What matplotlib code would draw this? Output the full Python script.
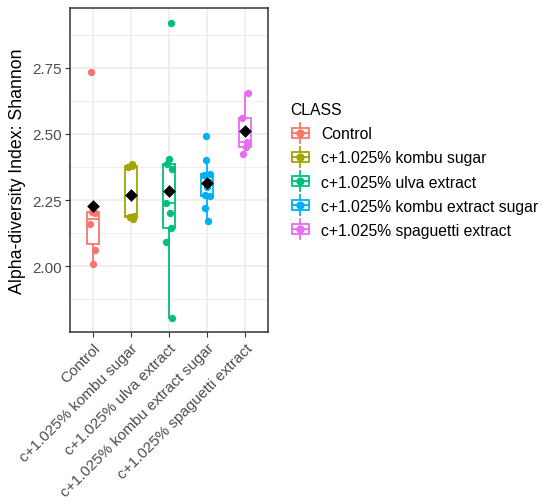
import numpy as np
import matplotlib
matplotlib.use("Agg")
import matplotlib.pyplot as plt
from matplotlib.patches import Rectangle
from matplotlib.lines import Line2D
from matplotlib.legend_handler import HandlerBase

plt.rcParams['font.family'] = ['Liberation Sans', 'DejaVu Sans']

categories = ["Control", "c+1.025% kombu sugar", "c+1.025% ulva extract",
              "c+1.025% kombu extract sugar", "c+1.025% spaguetti extract"]
colors = ["#F8766D", "#A3A500", "#00BF7D", "#00B0F6", "#E76BF3"]

control = [2.01, 2.06, 2.16, 2.20, 2.205, 2.733]
kombu_sugar = [2.18, 2.185, 2.185, 2.19, 2.375, 2.38, 2.385]
ulva_extract = [1.804, 2.09, 2.145, 2.20, 2.24, 2.367, 2.385, 2.405, 2.919]
kombu_extract_sugar = [2.172, 2.219, 2.265, 2.27, 2.30, 2.32, 2.345, 2.35, 2.401, 2.491]
spaguetti_extract = [2.424, 2.45, 2.47, 2.56, 2.655]

yticks = [2.00, 2.25, 2.50, 2.75]
ytick_labels = ["2.00", "2.25", "2.50", "2.75"]

groups = [control, kombu_sugar, ulva_extract, kombu_extract_sugar, spaguetti_extract]

W, H = 543, 502
fig = plt.figure(figsize=(W / 100, H / 100), dpi=100)
ax = fig.add_axes([70 / W, 1 - 333 / H, 198 / W, 323.7 / H])

pos = np.arange(1, len(categories) + 1)

bp = ax.boxplot(groups, positions=pos, widths=0.32, patch_artist=True,
                showfliers=False, showcaps=False, whis=1.5, zorder=2)
for i, c in enumerate(colors):
    bp['boxes'][i].set_facecolor('white')
    bp['boxes'][i].set_edgecolor(c)
    bp['boxes'][i].set_linewidth(1.3)
    bp['medians'][i].set_color(c)
    bp['medians'][i].set_linewidth(1.3)
    for w in bp['whiskers'][2 * i:2 * i + 2]:
        w.set_color(c)
        w.set_linewidth(1.3)

# jittered points
for i, (g, c) in enumerate(zip(groups, colors)):
    n = len(g)
    offs = 0.08 * np.sin(np.arange(n) * 2.4 + i)
    ax.scatter(pos[i] + offs, g, s=28, color=c, zorder=3, linewidths=0)

means = [np.mean(g) for g in groups]
ax.scatter(pos, means, marker='D', s=42, color='black', zorder=4, linewidths=0)

# axes styling
ax.set_axisbelow(True)
ax.set_xlim(0.4, 5.6)
ax.set_ylim(1.752, 2.974)
ax.set_yticks(yticks)
ax.set_yticklabels(ytick_labels)
ax.set_yticks([1.875, 2.125, 2.375, 2.625, 2.875], minor=True)
ax.set_xticks(pos)
ax.set_xticklabels(categories, rotation=45, ha='right', va='top', rotation_mode='anchor')
ax.grid(which='major', color='#EBEBEB', linewidth=1.1)
ax.grid(which='minor', axis='y', color='#EBEBEB', linewidth=0.6)
ax.tick_params(which='minor', length=0)
ax.tick_params(which='major', length=3.5, width=0.8, color='#333333',
               labelsize=11, labelcolor='#4D4D4D', pad=2.5)
for s in ax.spines.values():
    s.set_color('#333333')
    s.set_linewidth(1.1)

ax.set_ylabel("Alpha-diversity Index: Shannon", fontsize=12.8, labelpad=4)


class BoxHandler(HandlerBase):
    def create_artists(self, legend, orig_handle, xdescent, ydescent, width, height, fontsize, trans):
        c = orig_handle.get_color()
        cx = width / 2 - xdescent
        cy = height / 2 - ydescent
        bw, bh = width * 0.85, height * 0.7
        rect = Rectangle((cx - bw / 2, cy - bh / 2), bw, bh, facecolor='white',
                         edgecolor=c, linewidth=1.3, transform=trans)
        vline = Line2D([cx, cx], [cy - height * 0.7, cy + height * 0.7], color=c,
                       linewidth=1.3, transform=trans)
        hline = Line2D([cx - bw / 2, cx + bw / 2], [cy, cy], color=c, linewidth=1.3,
                       transform=trans)
        dot = Line2D([cx], [cy], marker='o', markersize=5, color=c, linestyle='none',
                     transform=trans)
        return [vline, rect, hline, dot]


handles = [Line2D([], [], color=c) for c in colors]
leg = fig.legend(handles, categories, handler_map={Line2D: BoxHandler()},
                 loc='center left', bbox_to_anchor=(290 / W, 1 - 171 / H),
                 frameon=False, title="CLASS", fontsize=11.3, title_fontsize=11.3,
                 handlelength=1.3, handleheight=1.0, handletextpad=0.7,
                 labelspacing=0.55, borderpad=0, borderaxespad=0)
leg._legend_box.align = "left"

fig.savefig("out.png", dpi=100)
